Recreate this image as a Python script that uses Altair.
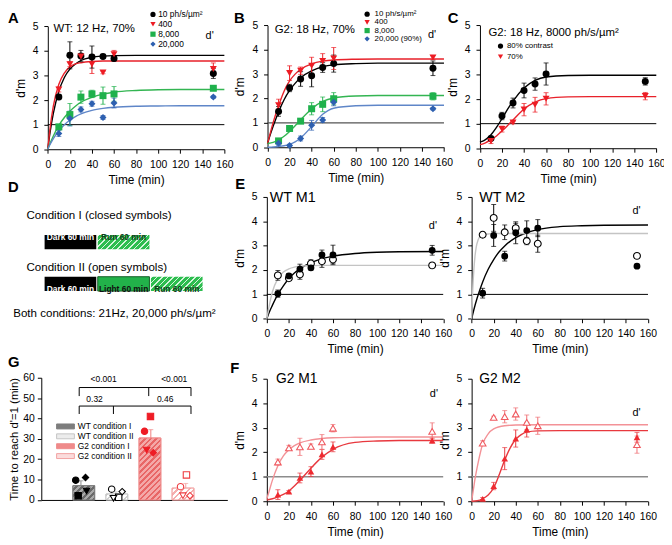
import altair as alt
import pandas as pd

FONT = "Liberation Sans"
W, H = 664, 533

# ----------------------------- data -----------------------------
T = [10, 20, 30, 40, 50, 60, 150]
FIT_T = [0, 2, 5, 10, 15, 20, 25, 30, 40, 50, 60, 80, 100, 120, 160]
FAST_T = [0, 1, 2, 3, 4, 6, 8, 10, 15, 20, 30, 40, 60, 100, 160]
SIG_T = [0, 5, 10, 15, 20, 25, 30, 35, 40, 45, 50, 60, 80, 120, 160]

# Panel A  (WT: 12 Hz, 70%)
A_series = ["10 ph/s/µm²", "400", "8,000", "20,000"]
A_10_d = [2.12, 3.82, 3.79, 3.75, 3.77, 3.69, 3.08]
A_10_e = [0.10, 0.55, 0.23, 0.45, 0.08, 0.10, 0.20]
A_400_d = [2.43, 3.46, 3.77, 3.46, 3.12, 3.86, 3.26]
A_400_e = [0.10, 0.10, 0.05, 0.38, 0.05, 0.16, 0.25]
A_8000_d = [0.91, 1.41, 2.12, 2.25, 2.18, 2.25, 2.48]
A_8000_e = [0.10, 0.45, 0.25, 0.15, 0.35, 0.30, 0.08]
A_20000_d = [0.64, 1.25, 1.62, 1.85, 1.29, 1.88, 2.12]
A_20000_e = [0.12, 0.30, 0.10, 0.10, 0.08, 0.20, 0.05]
A_10_fit = [0, 0.67, 1.46, 2.36, 2.92, 3.26, 3.47, 3.61, 3.74, 3.79, 3.81, 3.82, 3.82, 3.82, 3.82]
A_400_fit = [0, 0.84, 1.75, 2.64, 3.10, 3.35, 3.47, 3.52, 3.57, 3.59, 3.59, 3.59, 3.59, 3.59, 3.59]
A_8000_fit = [0, 0.23, 0.54, 0.97, 1.29, 1.55, 1.75, 1.91, 2.11, 2.24, 2.32, 2.39, 2.42, 2.43, 2.43]
A_20000_fit = [0, 0.19, 0.43, 0.75, 1.00, 1.18, 1.33, 1.44, 1.58, 1.66, 1.71, 1.75, 1.76, 1.77, 1.77]

# Panel B  (G2: 18 Hz, 70%)
B_series = ["10 ph/s/µm²", "400", "8,000", "20,000 (90%)"]
B_10_d = [1.47, 2.43, 2.80, 2.93, 3.27, 3.43, 3.24]
B_10_e = [0.20, 0.15, 0.30, 0.45, 0.20, 0.35, 0.30]
B_400_d = [1.72, 3.04, 3.14, 3.34, 3.54, 3.64, 3.68]
B_400_e = [0.25, 0.30, 0.15, 0.35, 0.30, 0.45, 0.08]
B_8000_d = [0.26, 0.77, 1.07, 1.58, 1.76, 1.99, 2.09]
B_8000_e = [0.06, 0.08, 0.05, 0.25, 0.30, 0.25, 0.15]
B_20000_d = [0.16, 0.07, 0.36, 0.90, 1.12, 1.85, 1.58]
B_20000_e = [0.08, 0.05, 0.10, 0.20, 0.10, 0.15, 0.05]
B_10_fit = [0.15, 0.45, 0.85, 1.45, 1.95, 2.33, 2.62, 2.85, 3.13, 3.30, 3.38, 3.43, 3.45, 3.45, 3.45]
B_400_fit = [0.15, 0.50, 1.00, 1.70, 2.30, 2.72, 3.00, 3.20, 3.42, 3.53, 3.58, 3.61, 3.62, 3.62, 3.62]
B_8000_fit = [0.15, 0.17, 0.20, 0.30, 0.45, 0.65, 0.88, 1.12, 1.58, 1.88, 2.02, 2.10, 2.12, 2.12, 2.12]
B_20000_fit = [0.0, 0.0, 0.01, 0.03, 0.06, 0.12, 0.22, 0.38, 0.85, 1.35, 1.60, 1.70, 1.72, 1.72, 1.72]

# Panel C  (G2: 18 Hz, 8000 ph/s/um2)
C_series = ["80% contrast", "70%"]
C_80_d = [0.40, 1.31, 1.84, 2.35, 2.61, 3.02, 2.72]
C_80_e = [0.05, 0.15, 0.20, 0.30, 0.25, 0.45, 0.15]
C_70_d = [0.29, 0.78, 1.05, 1.57, 1.77, 2.01, 2.12]
C_70_e = [0.10, 0.12, 0.05, 0.25, 0.30, 0.25, 0.15]
C_80_fit = [0.25, 0.28, 0.35, 0.55, 0.85, 1.20, 1.58, 1.92, 2.45, 2.76, 2.90, 2.96, 2.97, 2.97, 2.97]
C_70_fit = [0.15, 0.17, 0.22, 0.35, 0.50, 0.70, 0.92, 1.15, 1.60, 1.88, 2.02, 2.09, 2.10, 2.10, 2.10]

# Panels E (WT M1, WT M2): closed = condition I, open = condition II
COND = ["closed", "open"]
E1_closed_d = [1.03, 1.76, 2.04, 2.09, 2.62, 2.62, 2.81]
E1_closed_e = [0.15, 0.08, 0.20, 0.10, 0.20, 0.40, 0.20]
E1_open_d = [1.78, 1.66, 1.82, 2.27, 2.36, 2.43, 2.19]
E1_open_e = [0.20, 0.05, 0.20, 0.15, 0.25, 0.15, 0.05]
E1_closed_fit = [0, 0.25, 0.55, 1.00, 1.35, 1.65, 1.88, 2.05, 2.30, 2.47, 2.57, 2.68, 2.73, 2.75, 2.76]
E1_open_fit = [0, 0.50, 1.10, 1.65, 1.92, 2.05, 2.12, 2.16, 2.18, 2.19, 2.19, 2.19, 2.19, 2.19, 2.19]
E2_closed_d = [1.05, 3.42, 2.57, 3.53, 3.62, 3.72, 2.16]
E2_closed_e = [0.20, 0.45, 0.20, 0.45, 0.40, 0.35, 0.05]
E2_open_d = [3.45, 4.14, 3.55, 3.72, 3.19, 3.08, 2.58]
E2_open_e = [0.10, 0.55, 0.30, 0.20, 0.15, 0.35, 0.05]
E2_closed_fit = [0, 0.37, 0.85, 1.51, 2.03, 2.43, 2.75, 2.99, 3.33, 3.53, 3.66, 3.78, 3.82, 3.84, 3.85]
E2_open_fit = [0, 1.20, 2.00, 2.55, 2.90, 3.25, 3.40, 3.45, 3.48, 3.50, 3.50, 3.50, 3.50, 3.50, 3.50]

# Panels F (G2 M1, G2 M2)
F1_closed_d = [0.27, 0.39, 0.95, 1.21, 1.91, 2.22, 2.47]
F1_closed_e = [0.20, 0.05, 0.20, 0.20, 0.20, 0.20, 0.10]
F1_open_d = [1.60, 2.18, 2.22, 2.24, 2.42, 2.98, 2.85]
F1_open_e = [0.12, 0.10, 0.35, 0.10, 0.30, 0.15, 0.35]
F1_closed_fit = [0.05, 0.07, 0.10, 0.18, 0.28, 0.42, 0.62, 0.85, 1.35, 1.80, 2.12, 2.40, 2.46, 2.48, 2.48]
F1_open_fit = [0.10, 0.40, 0.85, 1.45, 1.85, 2.10, 2.27, 2.38, 2.50, 2.56, 2.59, 2.61, 2.62, 2.62, 2.62]
F2_closed_t = [10, 20, 30, 40, 50, 150]
F2_closed_d = [0.10, 0.62, 1.74, 2.56, 2.92, 2.61]
F2_closed_e = [0.05, 0.15, 0.45, 0.35, 0.30, 0.20]
F2_open_d = [2.37, 3.42, 3.45, 3.56, 3.22, 3.08, 2.31]
F2_open_e = [0.10, 0.05, 0.25, 0.25, 0.30, 0.35, 0.35]
F2_closed_fit = [0, 0.02, 0.10, 0.25, 0.55, 1.08, 1.68, 2.18, 2.53, 2.72, 2.82, 2.87, 2.88, 2.88, 2.88]
F2_open_fit = [0, 0.30, 0.60, 0.90, 1.15, 1.60, 2.00, 2.33, 2.75, 2.95, 3.08, 3.11, 3.12, 3.12, 3.12]

# Panel G (time to reach d'=1)
G_groups = ["WT condition I", "WT condition II", "G2 condition I", "G2 condition II"]
G_mean = [7.0, 2.9, 30.4, 5.8]
G_err = [2.4, 1.1, 4.1, 2.3]
G_mice = ["m1", "m2", "m3", "m4"]
G_WT1 = [9.7, 2.1, 4.4, 11.0]
G_WT2 = [5.3, 1.3, 0.8, 4.1]
G_G21 = [33.7, 41.0, 24.5, 23.2]
G_G22 = [6.5, 12.3, 2.1, 2.1]
G_WT1_jit = [-0.15, -0.08, 0.16, 0.13]
G_WT2_jit = [-0.12, 0.08, -0.07, 0.18]
G_G21_jit = [-0.18, -0.01, -0.12, 0.07]
G_G22_jit = [-0.15, 0.02, -0.08, 0.12]
P_labels = ["<0.001", "<0.001", "0.32", "0.46"]

# Panel D (protocol schematic), minutes
D_row = [1, 1, 2, 2, 2]
D_start = [0, 60, 0, 60, 120]
D_end = [60, 120, 60, 120, 180]
D_text = ["Dark 60 min", "Run 60 min", "Dark 60 min", "Light 60 min", "Run 60 min"]
D_kind = ["dark", "run", "dark", "light", "run"]

# ----------------------------- layout (chart px) -----------------------------
GEO = {
    "A": dict(x0=40.3, x1=219.0, y0=139.7, y1=15.3),
    "B": dict(x0=262.7, x1=441.3, y0=137.7, y1=14.3),
    "C": dict(x0=477.7, x1=656.2, y0=138.7, y1=14.3),
    "E1": dict(x0=262.0, x1=440.5, y0=311.3, y1=188.0),
    "E2": dict(x0=469.3, x1=647.8, y0=311.3, y1=188.0),
    "F1": dict(x0=262.0, x1=440.5, y0=496.0, y1=372.0),
    "F2": dict(x0=469.3, x1=647.8, y0=496.0, y1=372.0),
    "G": dict(x0=33.7, x1=222.0, y0=494.7, y1=371.0),
}
ONE = pd.DataFrame({"k": [0]})

BLACK, RED, GREEN, BLUE = "#000000", "#ed1c24", "#1fb14c", "#2e60b0"


def xaxis(g, title="Time (min)"):
    return alt.Axis(orient="bottom", offset=g["y0"] - H, values=list(range(0, 161, 20)), format="d",
                    title=title, grid=False, tickSize=4, tickColor="black", domainColor="black",
                    labelColor="black", titleColor="black", labelFontSize=10.5, titleFontSize=12,
                    titleFontWeight=400, labelPadding=6, titlePadding=5, labelFlush=False,
                    labelOverlap=False)


def yaxis(g, title="d'm", vals=(0, 1, 2, 3, 4, 5), lp=6, tp=5):
    return alt.Axis(orient="left", offset=-g["x0"], values=list(vals), format="d", title=title,
                    grid=False, tickSize=4, tickColor="black", domainColor="black",
                    labelColor="black", titleColor="black", labelFontSize=10.5, titleFontSize=12,
                    titleFontWeight=400, labelPadding=lp, titlePadding=tp, labelOverlap=False)


def leg(x, y, fs, rp, off, ss):
    return alt.Legend(orient="none", legendX=x, legendY=y, title=None, labelFontSize=fs,
                      rowPadding=rp, labelOffset=off, symbolSize=ss, padding=0,
                      labelColor="black", symbolStrokeWidth=0, symbolOpacity=1)


def hatch(wpx, hpx, bg, line, period=4.0, frac=0.4):
    r = hpx / wpx
    s = (1 + r) / (1 + r * r)
    n = max(1, int(round((wpx + hpx) / 1.4142 / period)))
    stops = []
    for i in range(n):
        a, b, c = i / n, (i + frac) / n, (i + 1) / n
        stops += [dict(offset=a, color=line), dict(offset=b, color=line),
                  dict(offset=b, color=bg), dict(offset=c, color=bg)]
    return dict(gradient="linear", x1=0, y1=0, x2=s, y2=s * r, stops=stops)


def frames(entries):
    P, C = [], []
    for lab, ts, ds, es, filled in entries:
        for t, d, e in zip(ts, ds, es):
            P.append(dict(t=t, d=d, lo=d - e, hi=d + e, s=lab, f=filled))
            C.append(dict(t=t, y=d - e, s=lab))
            C.append(dict(t=t, y=d + e, s=lab))
    return pd.DataFrame(P), pd.DataFrame(C)


def fitframe(entries):
    rows = []
    for lab, ts, ds in entries:
        rows += [dict(t=t, d=d, s=lab) for t, d in zip(ts, ds)]
    return pd.DataFrame(rows)


def dpanel(g, entries, fits, dom, pcol, fcol, ecol, shapes, legend=None,
           ref_color="black", ref_w=1.0, psize=50, fit_w=1.4):
    xs = alt.Scale(domain=[0, 160], range=[g["x0"], g["x1"]], nice=False, zero=False)
    ys = alt.Scale(domain=[0, 5], range=[g["y0"], g["y1"]], nice=False, zero=False)
    P, C = frames(entries)
    F = fitframe(fits)

    def X(f):
        return alt.X(f, type="quantitative", scale=xs, axis=None)

    def Y(f):
        return alt.Y(f, type="quantitative", scale=ys, axis=None)

    def col(rng, lg=None):
        return alt.Color("s:N", scale=alt.Scale(domain=dom, range=rng), legend=lg)

    def shp(lg=None):
        return alt.Shape("s:N", scale=alt.Scale(domain=dom, range=shapes), legend=lg)

    ref = pd.DataFrame({"x": [0], "x2": [160], "y": [1]})
    L = [alt.Chart(ref).mark_rule(color=ref_color, strokeWidth=ref_w).encode(
        x=alt.X("x:Q", scale=xs, axis=xaxis(g)), x2="x2:Q",
        y=alt.Y("y:Q", scale=ys, axis=yaxis(g)))]
    L.append(alt.Chart(F).mark_line(strokeWidth=fit_w, interpolate="monotone").encode(
        x=X("t"), y=Y("d"), color=col(fcol)))
    L.append(alt.Chart(P).mark_rule(strokeWidth=1).encode(
        x=X("t"), y=Y("lo"), y2="hi:Q", color=col(ecol)))
    L.append(alt.Chart(C).mark_tick(orient="horizontal", size=5, thickness=1).encode(
        x=X("t"), y=Y("y"), color=col(ecol)))
    closed = P[P.f]
    opened = P[~P.f]
    if len(opened):
        L.append(alt.Chart(opened).mark_point(filled=False, fill="white", opacity=1, size=psize,
                                              strokeWidth=1.1).encode(
            x=X("t"), y=Y("d"), color=col(pcol), shape=shp()))
    if len(closed):
        L.append(alt.Chart(closed).mark_point(filled=True, opacity=1, size=psize).encode(
            x=X("t"), y=Y("d"), color=col(pcol, legend), shape=shp(legend)))
    return L


layers = []

# ---- A ----
layers += dpanel(GEO["A"],
                 [(A_series[0], T, A_10_d, A_10_e, True), (A_series[1], T, A_400_d, A_400_e, True),
                  (A_series[2], T, A_8000_d, A_8000_e, True), (A_series[3], T, A_20000_d, A_20000_e, True)],
                 [(A_series[0], FIT_T, A_10_fit), (A_series[1], FIT_T, A_400_fit),
                  (A_series[2], FIT_T, A_8000_fit), (A_series[3], FIT_T, A_20000_fit)],
                 A_series, [BLACK, RED, GREEN, BLUE], [BLACK, "#e8212a", "#33b552", "#5f86c8"],
                 [BLACK, RED, GREEN, BLUE], ["circle", "triangle-down", "square", "diamond"],
                 legend=leg(142.5, -1, 8.5, 1, 1, 28))
# ---- B ----
layers += dpanel(GEO["B"],
                 [(B_series[0], T, B_10_d, B_10_e, True), (B_series[1], T, B_400_d, B_400_e, True),
                  (B_series[2], T, B_8000_d, B_8000_e, True), (B_series[3], T, B_20000_d, B_20000_e, True)],
                 [(B_series[0], FIT_T, B_10_fit), (B_series[1], FIT_T, B_400_fit),
                  (B_series[2], FIT_T, B_8000_fit), (B_series[3], FIT_T, B_20000_fit)],
                 B_series, [BLACK, RED, GREEN, BLUE], [BLACK, "#e8212a", "#33b552", "#5f86c8"],
                 [BLACK, RED, GREEN, BLUE], ["circle", "triangle-down", "square", "diamond"],
                 legend=leg(359.5, -1, 8, 0.3, 3.5, 28), ref_color="#555555", ref_w=1.2)
# ---- C ----
layers += dpanel(GEO["C"],
                 [(C_series[0], T, C_80_d, C_80_e, True), (C_series[1], T, C_70_d, C_70_e, True)],
                 [(C_series[0], FIT_T, C_80_fit), (C_series[1], FIT_T, C_70_fit)],
                 C_series, [BLACK, RED], [BLACK, "#e8212a"], [BLACK, RED], ["circle", "triangle-down"],
                 legend=leg(494.5, 31.3, 8, 2.7, 2.5, 28))
# ---- E ----
layers += dpanel(GEO["E1"],
                 [("closed", T, E1_closed_d, E1_closed_e, True), ("open", T, E1_open_d, E1_open_e, False)],
                 [("closed", FIT_T, E1_closed_fit), ("open", FIT_T, E1_open_fit)],
                 COND, [BLACK, BLACK], [BLACK, "#c4c4c4"], [BLACK, BLACK], ["circle", "circle"], psize=48)
layers += dpanel(GEO["E2"],
                 [("closed", T, E2_closed_d, E2_closed_e, True), ("open", T, E2_open_d, E2_open_e, False)],
                 [("closed", FIT_T, E2_closed_fit), ("open", FAST_T, E2_open_fit)],
                 COND, [BLACK, BLACK], [BLACK, "#c4c4c4"], [BLACK, BLACK], ["circle", "circle"], psize=48)
# ---- F ----
layers += dpanel(GEO["F1"],
                 [("closed", T, F1_closed_d, F1_closed_e, True), ("open", T, F1_open_d, F1_open_e, False)],
                 [("closed", FIT_T, F1_closed_fit), ("open", FIT_T, F1_open_fit)],
                 COND, ["#ee2a30", "#ef5a60"], ["#e8383e", "#f39297"], ["#e8383e", "#f07075"],
                 ["triangle-up", "triangle-up"], ref_color="#8c8c8c", ref_w=1.6, psize=45)
layers += dpanel(GEO["F2"],
                 [("closed", F2_closed_t, F2_closed_d, F2_closed_e, True), ("open", T, F2_open_d, F2_open_e, False)],
                 [("closed", SIG_T, F2_closed_fit), ("open", FAST_T, F2_open_fit)],
                 COND, ["#ee2a30", "#ef5a60"], ["#e8383e", "#f39297"], ["#e8383e", "#f07075"],
                 ["triangle-up", "triangle-up"], ref_color="#8c8c8c", ref_w=1.6, psize=45)

# ---- G ----
g = GEO["G"]
gx = alt.Scale(domain=[-1.135, 4.19], range=[g["x0"], g["x1"]], nice=False, zero=False)
gy = alt.Scale(domain=[0, 60], range=[g["y0"], g["y1"]], nice=False, zero=False)
G_fill = ["#7d7d7d", "#ececec", "#ef8a8a", "#fbdcdc"]
G_stroke = ["#7d7d7d", "#c4c4c4", "#ef8a8a", "#f2a2a2"]
G_errc = ["#8a8a8a", "#c4c4c4", "#f08080", "#f2a2a2"]
GB = pd.DataFrame({"g": G_groups, "i": [0, 1, 2, 3], "m": G_mean,
                   "hi": [m + e for m, e in zip(G_mean, G_err)]})
gxa = alt.Axis(orient="bottom", offset=g["y0"] - H, labels=False, ticks=False, title=None,
               grid=False, domainColor="black")
gya = alt.Axis(orient="left", offset=-g["x0"], values=list(range(0, 61, 10)), format="d",
               title="Time to reach d'=1 (min)", grid=False, tickSize=4, tickColor="black",
               domainColor="black", labelColor="black", titleColor="black", labelFontSize=10.5,
               titleFontSize=11.5, titleFontWeight=400, labelPadding=3, titlePadding=3)
gleg = alt.Legend(orient="none", legendX=52.7, legendY=414.8, title=None,
                  symbolType="M-1.8,-0.5H1.8V0.5H-1.8Z", symbolSize=100, labelFontSize=8.5,
                  rowPadding=0, labelOffset=7, symbolStrokeWidth=1, padding=0, labelColor="black")
layers.append(alt.Chart(GB).mark_bar(orient="vertical", size=22, strokeWidth=1).encode(
    x=alt.X("i:Q", scale=gx, axis=gxa), y=alt.Y("m:Q", scale=gy, axis=gya),
    color=alt.Color("g:N", scale=alt.Scale(domain=G_groups, range=G_fill), legend=gleg),
    stroke=alt.Stroke("g:N", scale=alt.Scale(domain=G_groups, range=G_stroke), legend=gleg)))
G_hatch = [("#6a6a6a", "#a9a9a9", 0.45), ("#ffffff", "#cfcfcf", 0.4),
           ("#f4a8a8", "#e86666", 0.45), ("#ffffff", "#f5aeae", 0.4)]
pxu = (g["y0"] - g["y1"]) / 60.0
for k, grp in enumerate(G_groups):
    bg, ln, fr = G_hatch[k]
    layers.append(alt.Chart(GB[GB.g == grp]).mark_bar(
        orient="vertical", size=22, fill=hatch(22, max(G_mean[k] * pxu, 3), bg, ln, 4.0, fr),
        stroke=G_stroke[k], strokeWidth=1).encode(
        x=alt.X("i:Q", scale=gx, axis=None), y=alt.Y("m:Q", scale=gy, axis=None)))
gcol = alt.Color("g:N", scale=alt.Scale(domain=G_groups, range=G_errc), legend=None)
layers.append(alt.Chart(GB).mark_rule(strokeWidth=1).encode(
    x=alt.X("i:Q", scale=gx, axis=None), y=alt.Y("m:Q", scale=gy, axis=None), y2="hi:Q", color=gcol))
layers.append(alt.Chart(GB).mark_tick(orient="horizontal", size=5, thickness=1).encode(
    x=alt.X("i:Q", scale=gx, axis=None), y=alt.Y("hi:Q", scale=gy, axis=None), color=gcol))
GP = []
for k, (vals, jit) in enumerate([(G_WT1, G_WT1_jit), (G_WT2, G_WT2_jit), (G_G21, G_G21_jit), (G_G22, G_G22_jit)]):
    for mouse, v, j in zip(G_mice, vals, jit):
        GP.append(dict(g=G_groups[k], x=k + j, v=v, mouse=mouse))
GP = pd.DataFrame(GP)
layers.append(alt.Chart(GP).mark_point(filled=True, opacity=1, size=42, strokeWidth=1.1).encode(
    x=alt.X("x:Q", scale=gx, axis=None), y=alt.Y("v:Q", scale=gy, axis=None),
    fill=alt.Fill("g:N", scale=alt.Scale(domain=G_groups, range=["#000000", "#ffffff", "#ee1c25", "#ffffff"]), legend=None),
    stroke=alt.Stroke("g:N", scale=alt.Scale(domain=G_groups, range=["#000000", "#000000", "#ee1c25", "#ee3c40"]), legend=None),
    shape=alt.Shape("mouse:N", scale=alt.Scale(domain=G_mice, range=["circle", "square", "triangle-down", "diamond"]), legend=None)))
# significance brackets (positions in bar-index / minute units)
BR_h = pd.DataFrame({"x": [-0.05, -0.05], "x2": [3.15, 3.15], "y": [55.2, 46.1]})
BR_v = pd.DataFrame({"x": [-0.05, 1.94, 3.15, -0.05, 0.93, 3.15],
                     "y": [55.2, 55.2, 55.2, 46.1, 46.1, 46.1],
                     "y2": [51.0, 51.0, 51.0, 42.2, 42.2, 42.2]})
layers.append(alt.Chart(BR_h).mark_rule(color="black", strokeWidth=1).encode(
    x=alt.X("x:Q", scale=gx, axis=None), x2="x2:Q", y=alt.Y("y:Q", scale=gy, axis=None)))
layers.append(alt.Chart(BR_v).mark_rule(color="black", strokeWidth=1).encode(
    x=alt.X("x:Q", scale=gx, axis=None), y=alt.Y("y:Q", scale=gy, axis=None), y2="y2:Q"))
PT = pd.DataFrame({"t": P_labels, "x": [0.65, 2.67, 0.39, 2.41], "y": [59.6, 59.6, 49.3, 49.3]})
layers.append(alt.Chart(PT).mark_text(fontSize=8.6, align="center", baseline="middle", color="black").encode(
    x=alt.X("x:Q", scale=gx, axis=None), y=alt.Y("y:Q", scale=gy, axis=None), text="t:N"))

# ---- D ----
dx = alt.Scale(domain=[0, 180], range=[36.3, 197.7], nice=False, zero=False)
dy = alt.Scale(domain=[1, 2], range=[228.7, 281.0], nice=False, zero=False)
DD = pd.DataFrame({"r": D_row, "s": D_start, "e": D_end, "txt": D_text, "k": D_kind,
                   "mid": [(a + b) / 2 for a, b in zip(D_start, D_end)]})
DX = alt.X("s:Q", scale=dx, axis=None)
DY = alt.Y("r:Q", scale=dy, axis=None)
layers.append(alt.Chart(DD[DD.k == "dark"]).mark_bar(orient="horizontal", size=14.5, color="#000000",
                                                     xOffset=0.75, x2Offset=-0.75).encode(x=DX, x2="e:Q", y=DY))
layers.append(alt.Chart(DD[DD.k == "light"]).mark_bar(orient="horizontal", size=14.5, fill="#22b24a",
                                                      stroke="#135c26", strokeWidth=1,
                                                      xOffset=0.75, x2Offset=-0.75).encode(x=DX, x2="e:Q", y=DY))
layers.append(alt.Chart(DD[DD.k == "run"]).mark_bar(orient="horizontal", size=14.5,
                                                    fill=hatch(52, 14.5, "#2dbd4f", "#d6f5dc", 4.0, 0.3),
                                                    xOffset=0.75, x2Offset=-0.75).encode(x=DX, x2="e:Q", y=DY))
layers.append(alt.Chart(DD).mark_text(fontSize=8.5, fontWeight="bold", align="center", baseline="middle").encode(
    x=alt.X("mid:Q", scale=dx, axis=None), y=DY, text="txt:N",
    color=alt.Color("k:N", scale=alt.Scale(domain=["dark", "light", "run"],
                                           range=["#ffffff", "#111111", "#143d1c"]), legend=None)))

# ---- annotations (chart px) ----
ANNOT = [
    ("A", 0, 0, 15, "bold", "top"), ("B", 228.7, 0, 15, "bold", "top"), ("C", 445, 0, 15, "bold", "top"),
    ("D", 0, 171, 15, "bold", "top"), ("E", 230, 168, 15, "bold", "top"),
    ("F", 225, 354, 15, "bold", "top"), ("G", 0, 348, 15, "bold", "top"),
    ("WT: 12 Hz, 70%", 46, 18, 11.5, "normal", "middle"),
    ("G2: 18 Hz, 70%", 270, 19.3, 11.5, "normal", "middle"),
    ("G2: 18 Hz, 8000 ph/s/µm²", 486.3, 22, 11.5, "normal", "middle"),
    ("d'", 200, 25, 11, "normal", "middle"), ("d'", 425, 23.7, 11, "normal", "middle"),
    ("WT M1", 265, 189, 14.5, "normal", "middle"), ("WT M2", 477, 189, 14.5, "normal", "middle"),
    ("d'", 426, 217, 11, "normal", "middle"), ("d'", 632, 202, 11, "normal", "middle"),
    ("G2 M1", 271.3, 372, 14, "normal", "middle"), ("G2 M2", 477, 372, 14, "normal", "middle"),
    ("d'", 427, 387, 11, "normal", "middle"), ("d'", 632, 407, 11, "normal", "middle"),
    ("Condition I (closed symbols)", 18.7, 206.3, 11.7, "normal", "middle"),
    ("Condition II (open symbols)", 18.7, 258.7, 11.7, "normal", "middle"),
    ("Both conditions: 21Hz, 20,000 ph/s/µm²", 5.3, 306, 11.7, "normal", "middle"),
]
for s, x, y, fs, fw, bl in ANNOT:
    layers.append(alt.Chart(ONE).mark_text(text=s, fontSize=fs, fontWeight=fw, align="left",
                                           baseline=bl, color="black").encode(
        x=alt.value(x), y=alt.value(y)))

chart = alt.layer(*layers).resolve_scale(
    x="independent", y="independent", color="independent", shape="independent",
    fill="independent", stroke="independent"
).properties(
    width=W, height=H, autosize=alt.AutoSizeParams(type="none"), padding=0
).configure(font=FONT).configure_view(stroke="transparent").configure_axis(
    titleFontWeight=400, labelFontWeight=400
)

chart.save("out.html", embed_options={"renderer": "svg", "actions": False})
